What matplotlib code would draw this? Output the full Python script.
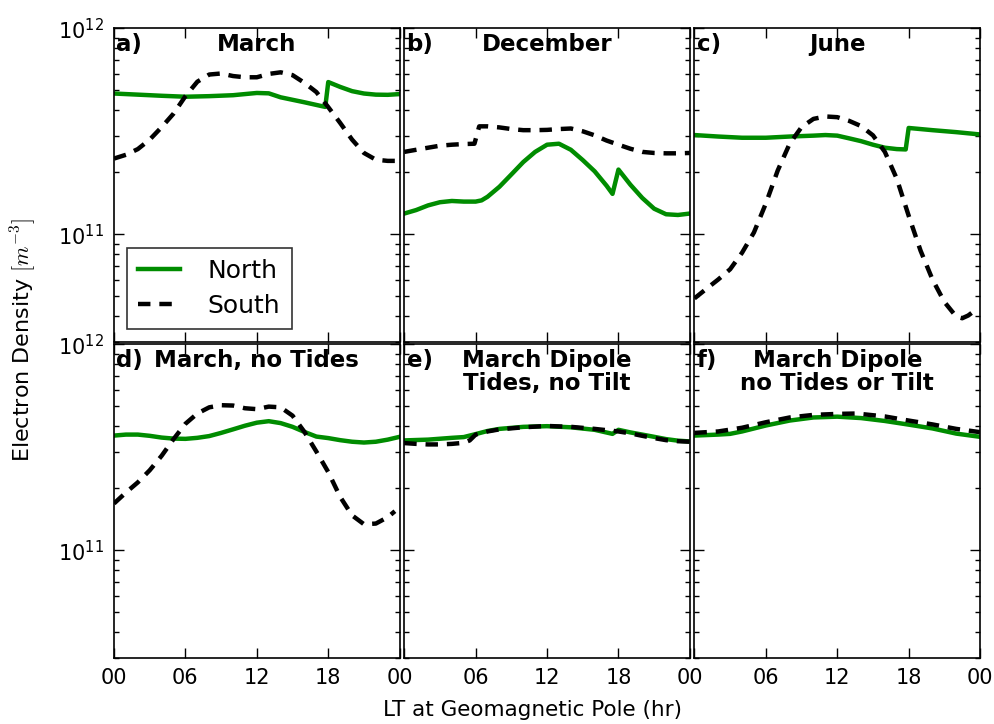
import numpy as np
import matplotlib
matplotlib.use("Agg")
import matplotlib.pyplot as plt
from matplotlib.ticker import LogLocator, NullFormatter

# ---- electron density (units of 1e11 m^-3) vs. local time (hr) ----
# a) March
a_north_hr = [0, 2, 4, 6, 8, 10, 11, 12, 13, 14, 16, 17.75, 18.0, 19, 20, 21, 22, 23, 24]
a_north = [4.82, 4.76, 4.70, 4.65, 4.68, 4.73, 4.79, 4.85, 4.83, 4.62, 4.37, 4.15, 5.48,
           5.19, 4.95, 4.82, 4.76, 4.75, 4.79]
a_south_hr = list(range(0, 25))
a_south = [2.33, 2.43, 2.59, 2.88, 3.31, 3.85, 4.68, 5.50, 5.96, 6.03, 5.86, 5.78, 5.78,
           6.00, 6.11, 5.92, 5.43, 4.90, 4.14, 3.47, 2.88, 2.48, 2.30, 2.27, 2.27]

# b) December
b_north_hr = [0, 1, 2, 3, 4, 5, 6, 6.5, 7, 8, 9, 10, 11, 12, 13, 14, 15, 16, 17, 17.5,
              18.0, 19, 20, 21, 22, 23, 24]
b_north = [1.26, 1.31, 1.38, 1.43, 1.45, 1.44, 1.44, 1.46, 1.52, 1.70, 1.95, 2.24, 2.51,
           2.72, 2.75, 2.57, 2.29, 2.02, 1.72, 1.57, 2.06, 1.74, 1.50, 1.33, 1.25, 1.24,
           1.26]
b_south_hr = [0, 1, 2, 3, 4, 5, 5.9, 6.3, 7, 8, 9, 10, 11, 12, 13, 14, 15, 16, 17, 18,
              19, 20, 21, 22, 23, 24]
b_south = [2.51, 2.57, 2.63, 2.69, 2.72, 2.74, 2.75, 3.34, 3.34, 3.30, 3.24, 3.20, 3.20,
           3.21, 3.24, 3.26, 3.16, 3.02, 2.85, 2.72, 2.60, 2.51, 2.48, 2.47, 2.47, 2.48]

# c) June
c_north_hr = [0, 2, 4, 6, 8, 10, 11, 12, 13, 14, 15, 16, 17, 17.75, 18.0, 20, 22, 24]
c_north = [3.03, 2.98, 2.94, 2.94, 2.98, 3.01, 3.03, 3.01, 2.92, 2.83, 2.72, 2.63, 2.59,
           2.58, 3.28, 3.20, 3.13, 3.05]
c_south_hr = [0, 1, 2, 3, 4, 5, 6, 7, 8, 9, 10, 11, 12, 13, 14, 15, 16, 17, 18, 19, 20,
              21, 22, 22.5, 23, 23.7]
c_south = [0.488, 0.543, 0.603, 0.676, 0.813, 1.02, 1.41, 2.04, 2.75, 3.31, 3.63, 3.73,
           3.70, 3.55, 3.35, 3.02, 2.51, 1.86, 1.23, 0.832, 0.603, 0.469, 0.398, 0.391,
           0.403, 0.432]

# d) March, no tides
d_north_hr = list(range(0, 25))
d_north = [3.61, 3.65, 3.65, 3.60, 3.53, 3.49, 3.48, 3.52, 3.59, 3.72, 3.87, 4.03, 4.17,
           4.24, 4.15, 3.98, 3.76, 3.57, 3.51, 3.43, 3.37, 3.34, 3.37, 3.45, 3.56]
d_south_hr = [0, 1, 2, 3, 4, 5, 6, 7, 8, 9, 10, 11, 12, 13, 14, 15, 16, 17, 18, 19, 20,
              21, 22, 23, 23.6]
d_south = [1.69, 1.91, 2.14, 2.45, 2.88, 3.47, 4.12, 4.62, 4.95, 5.07, 5.05, 4.90, 4.85,
           4.99, 4.95, 4.51, 3.76, 3.02, 2.40, 1.82, 1.48, 1.34, 1.35, 1.45, 1.55]

# e) March, dipole field with tides, no tilt
e_north_hr = [0, 2, 4, 5, 6, 7, 8, 10, 12, 14, 16, 17.5, 18.0, 19, 20, 21, 22, 23, 24]
e_north = [3.42, 3.45, 3.52, 3.55, 3.67, 3.80, 3.89, 3.98, 4.01, 3.96, 3.85, 3.68, 3.85,
           3.74, 3.65, 3.56, 3.47, 3.41, 3.38]
e_south_hr = [0, 1, 2, 3, 4, 5, 5.5, 6, 7, 8, 10, 12, 14, 16, 18, 19, 20, 21, 22, 23, 24]
e_south = [3.32, 3.29, 3.27, 3.27, 3.29, 3.33, 3.42, 3.65, 3.78, 3.87, 3.96, 4.02, 3.98,
           3.89, 3.78, 3.70, 3.60, 3.51, 3.43, 3.39, 3.37]

# f) March, dipole field, no tides or tilt
f_north_hr = [0, 2, 3, 4, 6, 8, 10, 12, 14, 16, 18, 20, 22, 24]
f_north = [3.61, 3.65, 3.68, 3.78, 4.04, 4.27, 4.42, 4.46, 4.39, 4.25, 4.08, 3.91, 3.69,
           3.56]
f_south_hr = [0, 2, 4, 6, 8, 10, 12, 13.6, 16, 18, 20, 22, 24]
f_south = [3.72, 3.78, 3.94, 4.19, 4.42, 4.55, 4.60, 4.62, 4.47, 4.27, 4.09, 3.89, 3.75]

panel_letters = ["a)", "b)", "c)", "d)", "e)", "f)"]
panel_titles = ["March", "December", "June", "March, no Tides",
                "March Dipole\nTides, no Tilt", "March Dipole\nno Tides or Tilt"]
xtick_pos = [0, 6, 12, 18, 24]
xtick_labels = ["00", "06", "12", "18", "00"]

panels = [
    (a_north_hr, a_north, a_south_hr, a_south),
    (b_north_hr, b_north, b_south_hr, b_south),
    (c_north_hr, c_north, c_south_hr, c_south),
    (d_north_hr, d_north, d_south_hr, d_south),
    (e_north_hr, e_north, e_south_hr, e_south),
    (f_north_hr, f_north, f_south_hr, f_south),
]

scale = 1e11
green = "#008c00"

fig, axes = plt.subplots(2, 3, figsize=(9.95, 7.24), dpi=100)
fig.subplots_adjust(left=0.1146, right=0.985, top=0.961, bottom=0.091,
                    wspace=0.016, hspace=0.008)

for i, ax in enumerate(axes.flat):
    nh, nv, sh, sv = panels[i]
    ax.plot(nh, np.array(nv) * scale, color=green, lw=3.2, label="North",
            solid_joinstyle="round")
    ax.plot(sh, np.array(sv) * scale, color="black", lw=3.2,
            linestyle=(0, (2.8, 2.0)), label="South")
    ax.set_yscale("log")
    ax.set_ylim(3e10, 1e12)
    ax.set_xlim(0, 24)
    ax.yaxis.set_major_locator(LogLocator(base=10, numticks=10))
    ax.yaxis.set_minor_locator(LogLocator(base=10, subs=np.arange(2, 10), numticks=20))
    ax.yaxis.set_minor_formatter(NullFormatter())
    ax.set_xticks(xtick_pos)
    row, col = divmod(i, 3)
    if row == 1:
        labels = list(xtick_labels)
        if col > 0:
            labels[0] = ""
        ax.set_xticklabels(labels)
    else:
        ax.set_xticklabels([])
    if col > 0:
        ax.tick_params(axis="y", labelleft=False)
    ax.tick_params(which="both", direction="in", top=True, right=True,
                   labelsize=15, width=1)
    ax.tick_params(which="major", length=7, pad=7)
    ax.tick_params(which="minor", length=3.5)
    for sp in ax.spines.values():
        sp.set_linewidth(1.2)
    ax.text(0.008, 0.985, panel_letters[i], transform=ax.transAxes, ha="left",
            va="top", fontsize=16.5, fontweight="bold")
    ax.text(0.5, 0.985, panel_titles[i], transform=ax.transAxes, ha="center",
            va="top", fontsize=16.5, fontweight="bold", linespacing=1.0)

leg = axes[0, 0].legend(loc="lower left", fontsize=18, handlelength=1.7,
                        handletextpad=1.1, fancybox=False, borderaxespad=0.5,
                        labelspacing=0.45, borderpad=0.45)
leg.get_frame().set_edgecolor("black")
leg.get_frame().set_linewidth(1.2)

fig.text(0.535, 0.006, "LT at Geomagnetic Pole (hr)", ha="center", va="bottom",
         fontsize=15.5)
fig.text(0.008, 0.53, "Electron Density $[m^{-3}]$", ha="left", va="center",
         rotation=90, fontsize=16, math_fontfamily="cm")

fig.savefig("out.png", dpi=100)
